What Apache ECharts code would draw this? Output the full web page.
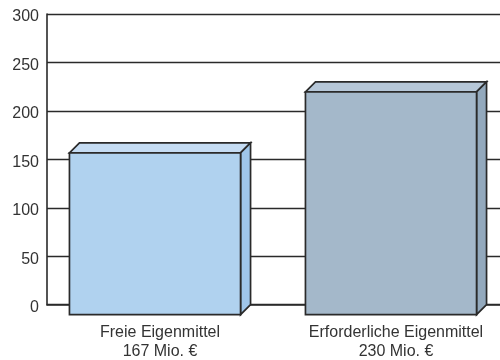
<!DOCTYPE html>
<html>
<head>
<meta charset="utf-8">
<style>html,body{margin:0;padding:0;background:#fff}#chart{width:500px;height:360px}</style>
<script src="https://cdn.jsdelivr.net/npm/echarts@6/dist/echarts.min.js"></script>
</head>
<body>
<div id="chart"></div>
<script>
const categories = ['Freie Eigenmittel', 'Erforderliche Eigenmittel'];
const amounts = [167, 230];
const unit = 'Mio. €';
const yTicks = [0, 50, 100, 150, 200, 250, 300];
const frontColors = ['#b0d2ef', '#a4b8ca'];
const topColors = ['#c5dcf3', '#b6c7d8'];
const sideColors = ['#9fc6ea', '#93a9bd'];

const INK = '#2a2a2a';
const DEPTH = 10;

// Extruded box: the value sits on the back plane, the front face is shifted
// down-left by DEPTH so the floor of the box hangs below the zero line.
function renderBox(params, api) {
  const i = api.value(0);
  const top = api.coord([i, api.value(1)]);
  const base = api.coord([i, 0]);
  const w = api.size([1, 0])[0] * 0.725;
  const xr = top[0] + w / 2, xl = top[0] - w / 2;
  const frontL = xl - DEPTH, frontR = xr - DEPTH;
  const frontT = top[1] + DEPTH, frontB = base[1] + DEPTH;
  const style = c => ({ fill: c, stroke: INK, lineWidth: 1.7, lineJoin: 'miter' });
  return {
    type: 'group',
    children: [
      { type: 'polygon', shape: { points: [[frontL, frontT], [xl, top[1]], [xr, top[1]], [frontR, frontT]] }, style: style(topColors[i]) },
      { type: 'polygon', shape: { points: [[frontR, frontT], [xr, top[1]], [xr, base[1]], [frontR, frontB]] }, style: style(sideColors[i]) },
      { type: 'rect', shape: { x: frontL, y: frontT, width: w, height: frontB - frontT }, style: style(frontColors[i]) }
    ]
  };
}

const chart = echarts.init(document.getElementById('chart'), null, { renderer: 'canvas' });
chart.setOption({
  animation: false,
  backgroundColor: '#fff',
  grid: { left: 47, top: 14, width: 472, height: 290.7, containLabel: false, outerBoundsMode: 'none' },
  xAxis: {
    type: 'category',
    data: categories.map((c, i) => c + '\n' + amounts[i] + ' ' + unit),
    axisLine: { show: true, lineStyle: { color: INK, width: 1.6 } },
    axisTick: { show: false },
    axisLabel: {
      interval: 0,
      margin: 18,
      padding: [0, 10, 0, 0],
      fontFamily: '"Liberation Sans", sans-serif',
      fontSize: 16,
      lineHeight: 19,
      color: '#333'
    }
  },
  yAxis: {
    type: 'value',
    min: yTicks[0],
    max: yTicks[yTicks.length - 1],
    interval: yTicks[1] - yTicks[0],
    axisLine: { show: true, lineStyle: { color: INK, width: 1.6 } },
    axisTick: { show: false },
    axisLabel: {
      margin: 8,
      verticalAlign: 'top',
      lineHeight: 6,
      fontFamily: '"Liberation Sans", sans-serif',
      fontSize: 16,
      color: '#333'
    },
    splitLine: { show: true, lineStyle: { color: INK, width: 1.4 } }
  },
  series: [{
    type: 'custom',
    z: 10,
    clip: false,
    renderItem: renderBox,
    encode: { x: 0, y: 1 },
    data: amounts.map((v, i) => [i, v])
  }]
});
</script>
</body>
</html>
